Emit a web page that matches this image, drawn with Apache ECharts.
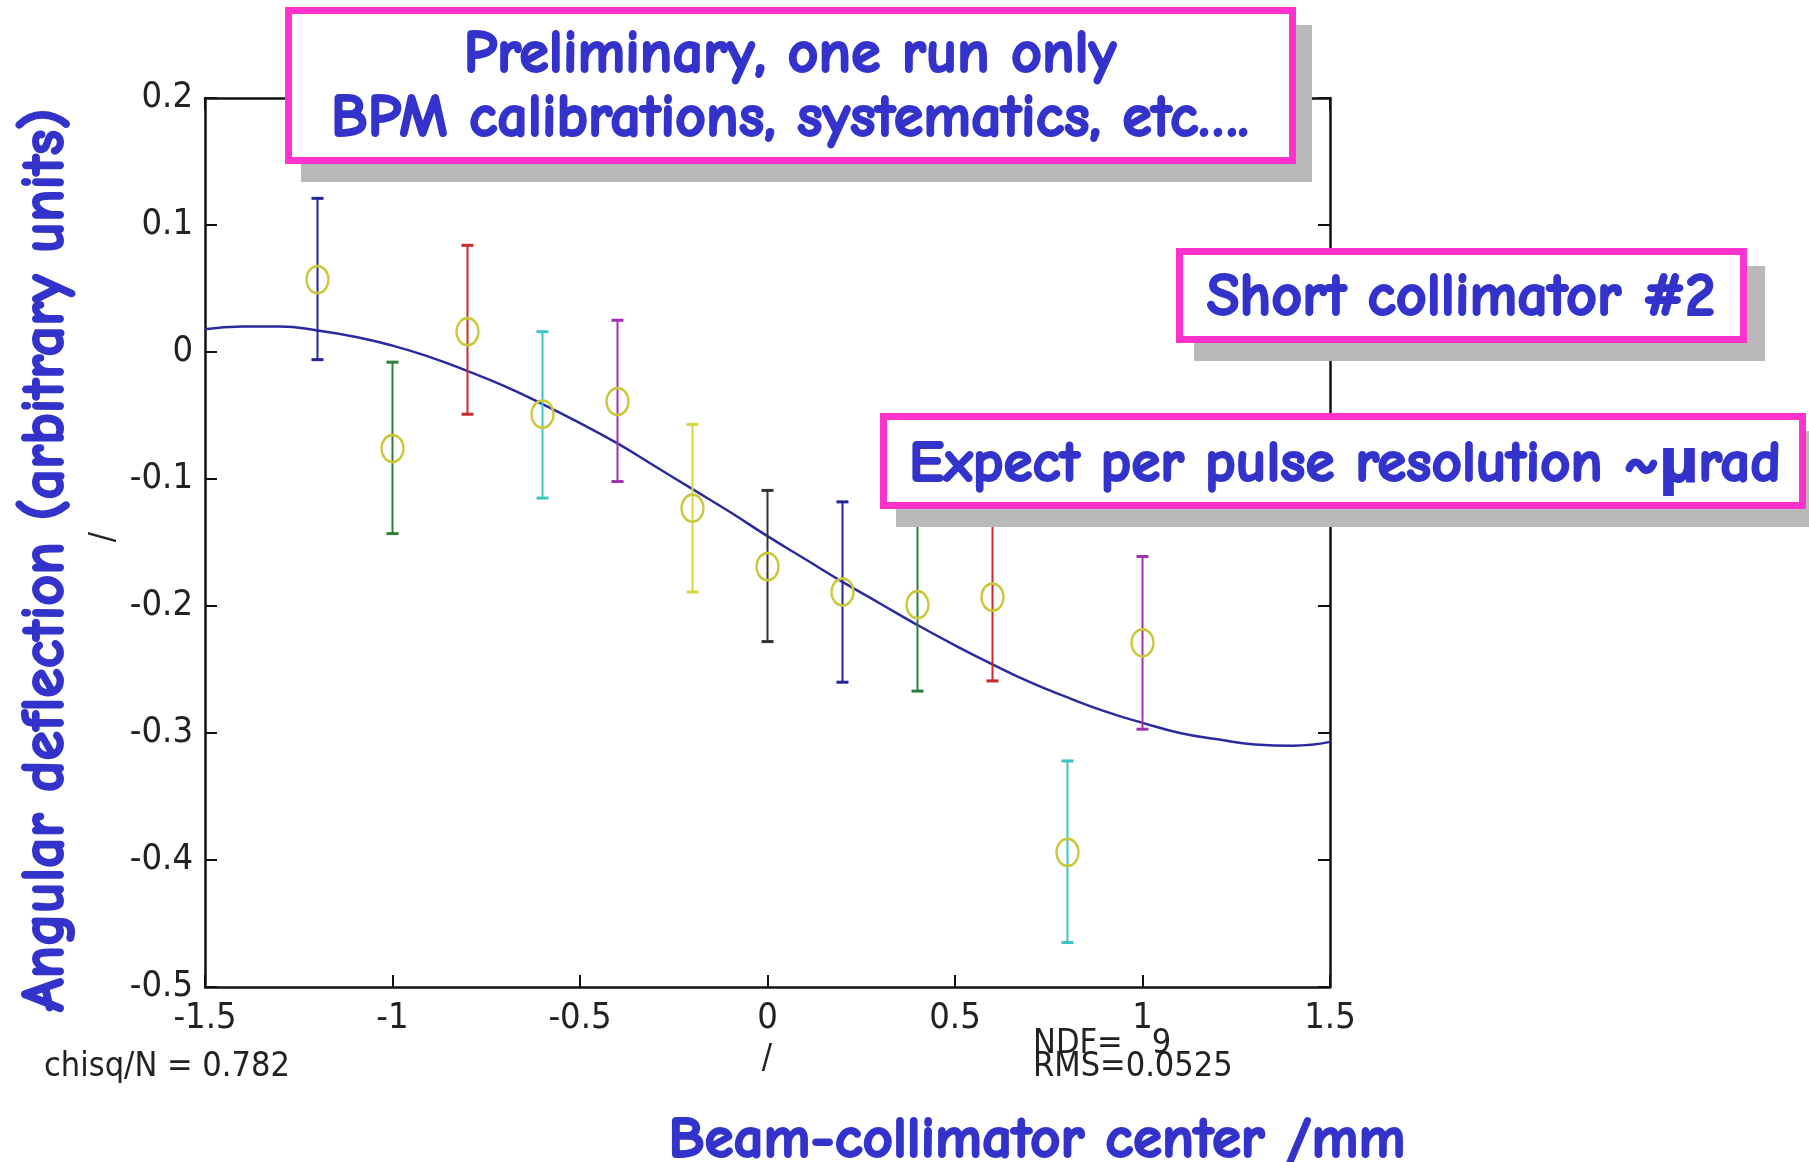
<!DOCTYPE html>
<html>
<head>
<meta charset="utf-8">
<script src="https://cdn.jsdelivr.net/npm/echarts@6/dist/echarts.min.js"></script>
<style>
html,body{margin:0;padding:0;background:#fff;}
#chart{width:1809px;height:1162px;}
</style>
</head>
<body>
<div id="chart"></div>
<script>
// ---- data ----
var xVals   = [-1.2, -1.0, -0.8, -0.6, -0.4, -0.2, 0.0, 0.2, 0.4, 0.6, 0.8, 1.0];
var yVals   = [0.057, -0.076, 0.016, -0.049, -0.039, -0.123, -0.169, -0.189, -0.199, -0.193, -0.394, -0.229];
var yLow    = [-0.006, -0.143, -0.049, -0.115, -0.102, -0.189, -0.228, -0.260, -0.267, -0.259, -0.465, -0.297];
var yHigh   = [0.121, -0.008, 0.084, 0.016, 0.025, -0.057, -0.109, -0.118, -0.131, -0.127, -0.322, -0.161];
var barColors = ['#24249c', '#2e7d3a', '#cc2a2a', '#3cc4c4', '#a030b0', '#d6d640', '#333333', '#24249c', '#2e7d3a', '#cc2a2a', '#3cc4c4', '#a030b0'];

var fitX = [-1.5, -1.4, -1.3, -1.2, -1.1, -1.0, -0.9, -0.8, -0.7, -0.6, -0.5, -0.4, -0.3, -0.2, -0.1, 0.0, 0.1, 0.2, 0.3, 0.4, 0.5, 0.6, 0.7, 0.8, 0.9, 1.0, 1.1, 1.2, 1.3, 1.4, 1.5];
var fitY = [0.018, 0.020, 0.020, 0.017, 0.012, 0.005, -0.004, -0.015, -0.027, -0.041, -0.056, -0.072, -0.090, -0.108, -0.126, -0.145, -0.163, -0.181, -0.198, -0.215, -0.231, -0.246, -0.260, -0.272, -0.283, -0.292, -0.300, -0.305, -0.309, -0.310, -0.307];

var xTickLabels = ['-1.5', '-1', '-0.5', '0', '0.5', '1', '1.5'];
var yTickLabels = ['-0.5', '-0.4', '-0.3', '-0.2', '-0.1', '0', '0.1', '0.2'];

var boxLine1 = 'Preliminary, one run only';
var boxLine2 = 'BPM calibrations, systematics, etc….';
var boxShort = 'Short collimator #2';
var boxExpect = 'Expect per pulse resolution ~\u03bcrad';
var yTitle = 'Angular deflection (arbitrary units)';
var xTitle = 'Beam-collimator center /mm';
var statChi = 'chisq/N = 0.782';
var statNdf = 'NDF=   9';
var statRms = 'RMS=0.0525';

// ---- build ----
var chart = echarts.init(document.getElementById('chart'));
var tickFont = "'Liberation Sans Narrow','DejaVu Sans Condensed','Liberation Sans',sans-serif";
var comic = "'Comic Sans MS','Comic Neue','Open Sans','Noto Sans',sans-serif";
var blue = '#3333cc';
var pink = '#ff33cc';

function fmtTick(list){
  return function(v){
    var s = (Math.round(v*10)/10).toString();
    for (var i = 0; i < list.length; i++) if (parseFloat(list[i]) === parseFloat(s)) return list[i];
    return s;
  };
}

var scatterData = xVals.map(function(x,i){ return [x, yVals[i]]; });
var errData = xVals.map(function(x,i){ return [x, yLow[i], yHigh[i]]; });
var fitData = fitX.map(function(x,i){ return [x, fitY[i]]; });

function box(x, y, w, h, lw, shadowDx, shadowDy){
  return [
    {type:'rect', z:100, shape:{x:x+shadowDx - lw/2, y:y+shadowDy - lw/2, width:w+lw, height:h+lw}, style:{fill:'#b9b9b9'}},
    {type:'rect', z:101, shape:{x:x, y:y, width:w, height:h}, style:{fill:'#ffffff', stroke:pink, lineWidth:lw}}
  ];
}
function txt(x, y, s, size, extra){
  var o = {type:'text', z:102, x:x, y:y, style:{text:s, fill:blue, stroke:blue, lineWidth:2, font:'bold ' + size + 'px ' + comic, textAlign:'center', textVerticalAlign:'middle'}};
  if (extra) for (var k in extra) o[k] = extra[k];
  return o;
}
function small(x, y, s, align){
  return {type:'text', z:50, x:x, y:y, style:{text:s, fill:'#222', font:'34px ' + tickFont, textAlign:align||'left', textVerticalAlign:'middle'}};
}

var graphics = []
  .concat(box(288.5, 10.5, 1004, 150, 7, 16, 18))
  .concat([txt(790, 55, boxLine1, 60), txt(790, 119, boxLine2, 60)])
  .concat(box(1179.5, 251.5, 564, 88, 7, 18, 18))
  .concat([txt(1461, 298, boxShort, 60)])
  .concat(box(883.5, 416.5, 919, 89, 7, 16, 18))
  .concat([txt(1345, 464, boxExpect, 59)])
  .concat([
    txt(46, 560, yTitle, 60, {rotation: Math.PI/2}),
    txt(1037, 1140, xTitle, 59),
    small(44, 1067, statChi),
    small(1033, 1044, statNdf),
    small(1033, 1067, statRms),
    small(767, 1059, '/', 'center'),
    {type:'text', z:50, x:104, y:537, rotation: Math.PI/2, style:{text:'/', fill:'#222', font:'34px ' + tickFont, textAlign:'center', textVerticalAlign:'middle'}}
  ]);

var axisLineStyle = {color:'#111', width:2.5};
var tickStyle = {color:'#111', width:2};

var option = {
  animation: false,
  backgroundColor: '#ffffff',
  grid: {left: 205, top: 98, width: 1125, height: 889, containLabel: false},
  xAxis: [
    {type:'value', min:-1.5, max:1.5, interval:0.5, position:'bottom',
     axisLine:{show:true, onZero:false, lineStyle:axisLineStyle},
     axisTick:{show:true, inside:true, length:12, lineStyle:tickStyle},
     axisLabel:{show:true, margin:14, color:'#222', fontSize:36, fontFamily:tickFont, formatter:fmtTick(xTickLabels)},
     splitLine:{show:false}},
    {type:'value', min:-1.5, max:1.5, interval:0.5, position:'top',
     axisLine:{show:true, onZero:false, lineStyle:axisLineStyle},
     axisTick:{show:true, inside:true, length:12, lineStyle:tickStyle},
     axisLabel:{show:false}, splitLine:{show:false}}
  ],
  yAxis: [
    {type:'value', min:-0.5, max:0.2, interval:0.1, position:'left',
     axisLine:{show:true, onZero:false, lineStyle:axisLineStyle},
     axisTick:{show:true, inside:true, length:12, lineStyle:tickStyle},
     axisLabel:{show:true, margin:12, color:'#222', fontSize:36, fontFamily:tickFont, formatter:fmtTick(yTickLabels)},
     splitLine:{show:false}},
    {type:'value', min:-0.5, max:0.2, interval:0.1, position:'right',
     axisLine:{show:true, onZero:false, lineStyle:axisLineStyle},
     axisTick:{show:true, inside:true, length:12, lineStyle:tickStyle},
     axisLabel:{show:false}, splitLine:{show:false}}
  ],
  series: [
    {type:'line', data:fitData, showSymbol:false, smooth:true, lineStyle:{color:'#2a2aa0', width:2.5}, z:3},
    {type:'custom', data:errData, z:4,
     renderItem:function(params, api){
       var x = api.value(0), lo = api.value(1), hi = api.value(2);
       var p1 = api.coord([x, hi]), p2 = api.coord([x, lo]);
       var w = 6, c = barColors[params.dataIndex];
       return {type:'group', children:[
         {type:'line', shape:{x1:p1[0], y1:p1[1], x2:p2[0], y2:p2[1]}, style:{stroke:c, lineWidth:2}},
         {type:'line', shape:{x1:p1[0]-w, y1:p1[1], x2:p1[0]+w, y2:p1[1]}, style:{stroke:c, lineWidth:3}},
         {type:'line', shape:{x1:p2[0]-w, y1:p2[1], x2:p2[0]+w, y2:p2[1]}, style:{stroke:c, lineWidth:3}}
       ]};
     }},
    {type:'scatter', data:scatterData, symbol:'circle', symbolSize:[22,27], z:5,
     itemStyle:{color:'rgba(0,0,0,0)', borderColor:'#c8c83a', borderWidth:2.5, opacity:1},
     emphasis:{disabled:true}}
  ],
  graphic: graphics
};
chart.setOption(option);
</script>
</body>
</html>
